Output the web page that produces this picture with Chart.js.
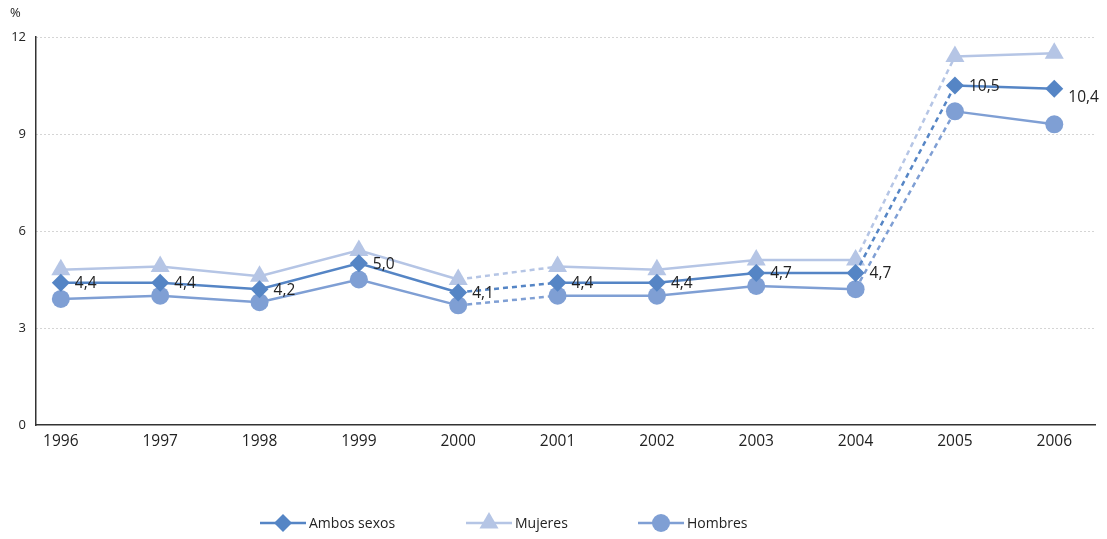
<!DOCTYPE html>
<html>
<head>
<meta charset="utf-8">
<script src="https://cdn.jsdelivr.net/npm/chart.js@4.4.1/dist/chart.umd.min.js"></script>
<style>
  html, body { margin: 0; padding: 0; background: #fff; }
  #wrap { position: relative; width: 1107px; height: 539px; }
</style>
</head>
<body>
<div id="wrap"><canvas id="chart" width="1107" height="539"></canvas></div>
<script>
// Tasa (%) por sexo, 1996-2006
const years = [1996, 1997, 1998, 1999, 2000, 2001, 2002, 2003, 2004, 2005, 2006];
const ambos = [4.4, 4.4, 4.2, 5.0, 4.1, 4.4, 4.4, 4.7, 4.7, 10.5, 10.4];
const mujeres = [4.8, 4.9, 4.6, 5.4, 4.5, 4.9, 4.8, 5.1, 5.1, 11.4, 11.5];
const hombres = [3.9, 4.0, 3.8, 4.5, 3.7, 4.0, 4.0, 4.3, 4.2, 9.7, 9.3];
const ambosLabels = ['4,4', '4,4', '4,2', '5,0', '4,1', '4,4', '4,4', '4,7', '4,7', '10,5', '10,4'];
const yTicks = [0, 3, 6, 9, 12];
// Series break: segment starting at these indices is drawn dashed
const dashedFrom = [4, 8];

const FONT = '"Open Sans", "Noto Sans", sans-serif';
const C_AMBOS = '#5585c5';
const C_MUJ = '#b5c5e5';
const C_HOM = '#7f9fd4';

const series = [
    { label: 'Ambos sexos', data: ambos, color: C_AMBOS, style: 'rectRot', radius: 9, order: 0 },
    { label: 'Mujeres', data: mujeres, color: C_MUJ, style: 'triangle', radius: 11, order: 2 },
    { label: 'Hombres', data: hombres, color: C_HOM, style: 'circle', radius: 9, order: 1 },
];

const dashSeg = ctx => dashedFrom.includes(ctx.p0DataIndex) ? [5, 4] : undefined;

// ── value labels next to "Ambos sexos" ──
const valueLabels = {
    id: 'valueLabels',
    afterDatasetsDraw(chart) {
        const meta = chart.getDatasetMeta(0);
        const ctx = chart.ctx;
        ctx.save();
        ctx.font = '15.5px ' + FONT;
        ctx.fillStyle = '#222';
        ctx.textBaseline = 'middle';
        ctx.textAlign = 'left';
        meta.data.forEach((pt, i) => {
            const dy = i === meta.data.length - 1 ? 9 : 1;
            ctx.fillText(ambosLabels[i], pt.x + 14, pt.y + dy);
        });
        ctx.restore();
    }
};

// ── "%" unit label + legend drawn on canvas ──
const extras = {
    id: 'extras',
    afterDraw(chart) {
        const ctx = chart.ctx;
        ctx.save();
        ctx.font = '13px ' + FONT;
        ctx.fillStyle = '#222';
        ctx.textAlign = 'left';
        ctx.textBaseline = 'middle';
        ctx.fillText('%', 10, 13);

        const items = [
            { s: series[0], x0: 260 },
            { s: series[1], x0: 466 },
            { s: series[2], x0: 638 },
        ];
        const ly = 523;
        items.forEach(({ s, x0 }) => {
            ctx.strokeStyle = s.color;
            ctx.lineWidth = 2.5;
            ctx.beginPath();
            ctx.moveTo(x0, ly);
            ctx.lineTo(x0 + 46, ly);
            ctx.stroke();
            ctx.fillStyle = s.color;
            Chart.helpers.drawPoint(ctx, { pointStyle: s.style, radius: s.radius, borderWidth: 0 }, x0 + 23, ly);
            ctx.fillStyle = '#222';
            ctx.font = '14px ' + FONT;
            ctx.fillText(s.label, x0 + 49, ly + 1);
        });
        ctx.restore();
    }
};

new Chart(document.getElementById('chart'), {
    type: 'line',
    data: {
        datasets: series.map(s => ({
            label: s.label,
            data: s.data.map((v, i) => ({ x: years[i], y: v })),
            borderColor: s.color,
            backgroundColor: s.color,
            pointBackgroundColor: s.color,
            pointBorderWidth: 0,
            pointStyle: s.style,
            pointRadius: s.radius,
            pointHoverRadius: s.radius,
            borderWidth: 2.5,
            tension: 0,
            order: s.order,
            segment: { borderDash: dashSeg },
        }))
    },
    options: {
        responsive: false,
        animation: false,
        layout: { padding: { top: 37, right: 12, left: 0, bottom: 0 } },
        plugins: { legend: { display: false }, tooltip: { enabled: false } },
        scales: {
            x: {
                type: 'linear',
                min: 1995.75,
                max: 2006.41,
                afterBuildTicks: scale => { scale.ticks = years.map(v => ({ value: v })); },
                afterFit: scale => { scale.height = 114; },
                grid: { display: false, drawTicks: false },
                border: { display: true, color: '#333', width: 1.5 },
                ticks: {
                    color: '#222', font: { family: FONT, size: 15.5 }, padding: 7,
                    callback: v => String(v)
                }
            },
            y: {
                min: 0,
                max: 12,
                afterBuildTicks: scale => { scale.ticks = yTicks.map(v => ({ value: v })); },
                afterFit: scale => { scale.width = 36; },
                grid: {
                    color: ctx => ctx.tick && ctx.tick.value === 0 ? 'rgba(0,0,0,0)' : '#aaa',
                    lineWidth: 1,
                    drawTicks: false
                },
                border: { display: true, color: '#333', width: 1.5, dash: [1, 3] },
                ticks: { color: '#222', font: { family: FONT, size: 13 }, padding: 10 }
            }
        }
    },
    plugins: [valueLabels, extras]
});
</script>
</body>
</html>
